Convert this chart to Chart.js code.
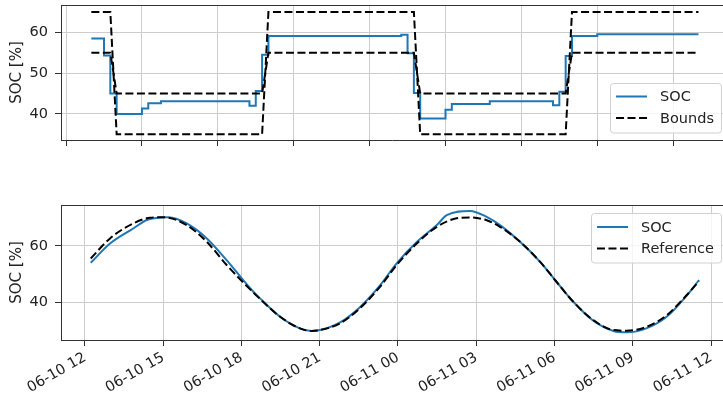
<!DOCTYPE html>
<html>
<head>
<meta charset="utf-8">
<script src="https://cdn.jsdelivr.net/npm/chart.js@4.4.1/dist/chart.umd.min.js"></script>
<style>
    html, body { margin: 0; padding: 0; background: #ffffff; }
    #wrap { position: relative; width: 723px; height: 394px; }
    #wrap canvas { position: absolute; left: 0; }
    #top-chart { top: 0; }
    #bottom-chart { top: 195px; }
</style>
</head>
<body>
<div id="wrap">
    <canvas id="top-chart" width="723" height="150"></canvas>
    <canvas id="bottom-chart" width="723" height="199"></canvas>
</div>
<script>
// Hours counted from 06-10 00:00
var tickHours = [12, 15, 18, 21, 24, 27, 30, 33, 36];
var tickLabels = ['06-10 12', '06-10 15', '06-10 18', '06-10 21', '06-11 00',
                  '06-11 03', '06-11 06', '06-11 09', '06-11 12'];

// Top panel: step SOC and the two bound lines
var topSocTimes = [13.0, 13.5, 13.75, 14.0, 15.0, 15.25, 15.75, 19.25, 19.5, 19.75, 20.0,
                   25.25, 25.5, 25.75, 26.0, 27.0, 27.25, 28.75, 31.25, 31.5, 31.75, 32.0,
                   33.0, 37.0];
var topSocValues = [58.5, 54.3, 45.0, 40.0, 41.3, 42.6, 43.1, 42.0, 45.6, 54.5, 59.1,
                    59.4, 54.9, 45.1, 38.9, 41.0, 42.4, 43.1, 42.1, 45.4, 54.2, 59.1,
                    59.5, 59.5];
var boundTimes = [13.0, 13.75, 14.0, 19.75, 20.0, 25.75, 26.0, 31.75, 32.0, 37.0];
var upperBound = [65, 65, 35, 35, 65, 65, 35, 35, 65, 65];
var lowerBound = [55, 55, 45, 45, 55, 55, 45, 45, 55, 55];
var topYTicks = [40, 50, 60];

// Bottom panel: SOC against the reference trajectory
var refTimes = [12.22, 12.96, 13.85, 14.49, 14.99, 15.90, 16.67, 17.43, 18.33, 18.71,
                19.48, 20.24, 20.69, 21.01, 21.78, 22.54, 23.31, 23.95, 24.72, 25.49,
                26.25, 26.76, 27.40, 27.91, 28.68, 29.45, 30.02, 30.72, 31.49, 32.26,
                32.77, 33.54, 34.31, 35.07, 35.54];
var refValues = [55.5, 62.6, 67.9, 69.9, 70.1, 67.3, 61.4, 53.2, 44.6, 41.2,
                 34.9, 30.8, 29.9, 30.2, 32.6, 37.9, 45.5, 53.2, 60.8, 66.7,
                 69.7, 70.0, 69.0, 66.7, 61.4, 54.3, 47.9, 40.2, 33.7, 30.2,
                 30.0, 31.4, 35.5, 42.6, 47.5];
var socTimes = [12.22, 12.96, 13.85, 14.37, 15.19, 15.90, 16.67, 17.43, 18.33, 18.71,
                19.48, 20.24, 20.69, 21.01, 21.78, 22.54, 23.31, 23.95, 24.72, 25.49,
                25.87, 26.76, 27.40, 27.91, 28.68, 29.45, 30.02, 30.72, 31.49, 32.26,
                32.77, 33.54, 34.31, 35.07, 35.54];
var socValues = [54.0, 60.8, 66.1, 69.1, 70.1, 67.9, 62.6, 54.9, 45.0, 41.4,
                 34.9, 30.8, 29.9, 30.2, 32.9, 38.3, 46.0, 53.8, 61.3, 67.3,
                 70.8, 72.3, 70.2, 67.3, 61.4, 54.3, 47.9, 40.2, 33.5, 29.9,
                 29.4, 30.9, 35.0, 42.4, 47.9];
var bottomYTicks = [40, 60];

(function() {
    'use strict';

    var FONT = '"DejaVu Sans", sans-serif';
    var FONT_SIZE = 14.5;
    var BLUE = '#1f77b4';
    var SPINE = '#333333';
    var GRID = '#cdcdcd';

    function pairs(xs, ys) {
        return xs.map(function(x, i) { return { x: x, y: ys[i] }; });
    }

    /**
     * Matplotlib style legend drawn inside the plot area
     */
    var boxLegend = {
        id: 'boxLegend',
        afterDatasetsDraw: function(chart, args, opts) {
            var ctx = chart.ctx;
            var area = chart.chartArea;
            var items = chart.data.datasets.filter(function(ds) { return ds.label; });
            ctx.save();
            ctx.font = FONT_SIZE + 'px ' + FONT;
            var textW = 0;
            items.forEach(function(ds) {
                textW = Math.max(textW, ctx.measureText(ds.label).width);
            });
            var rowH = 21.5;
            var w = 6 + 31 + 13 + textW + 7;
            var h = 28 + rowH * (items.length - 1);
            var x = area.right - 2 - w;
            var y = opts.corner === 'lower' ? area.bottom - 8 - h : area.top + 8;

            ctx.beginPath();
            ctx.roundRect(Math.round(x) + 0.5, Math.round(y) + 0.5, w, h, 3);
            ctx.fillStyle = 'rgba(255,255,255,0.8)';
            ctx.fill();
            ctx.strokeStyle = '#d0d0d0';
            ctx.lineWidth = 1;
            ctx.stroke();

            items.forEach(function(ds, i) {
                var cy = y + 14 + i * rowH;
                ctx.beginPath();
                ctx.setLineDash(ds.borderDash || []);
                ctx.strokeStyle = ds.borderColor;
                ctx.lineWidth = ds.borderWidth;
                ctx.moveTo(x + 6, cy);
                ctx.lineTo(x + 37, cy);
                ctx.stroke();
                ctx.setLineDash([]);
                ctx.fillStyle = '#222222';
                ctx.textBaseline = 'middle';
                ctx.fillText(ds.label, x + 50, cy + 1);
            });
            ctx.restore();
        }
    };

    /**
     * Top spine (left and bottom come from the axes)
     */
    var topSpine = {
        id: 'topSpine',
        afterDraw: function(chart) {
            var ctx = chart.ctx;
            var area = chart.chartArea;
            ctx.save();
            ctx.strokeStyle = SPINE;
            ctx.lineWidth = 1;
            ctx.beginPath();
            ctx.moveTo(area.left, Math.round(area.top) + 0.5);
            ctx.lineTo(area.right, Math.round(area.top) + 0.5);
            ctx.stroke();
            ctx.restore();
        }
    };

    function xScale(min, max, height, showLabels) {
        return {
            type: 'linear',
            min: min,
            max: max,
            afterBuildTicks: function(scale) {
                scale.ticks = tickHours.map(function(v) { return { value: v }; });
            },
            afterFit: function(scale) {
                scale.height = height;
                scale.paddingLeft = 0;
                scale.paddingRight = 0;
            },
            grid: { color: GRID, lineWidth: 1, tickColor: SPINE, tickLength: 6 },
            border: { color: SPINE, width: 1 },
            ticks: {
                autoSkip: false,
                minRotation: showLabels ? 30 : 0,
                maxRotation: showLabels ? 30 : 0,
                padding: 3,
                color: '#222222',
                font: { family: FONT, size: FONT_SIZE },
                callback: function(value) {
                    var i = tickHours.indexOf(value);
                    return showLabels && i >= 0 ? tickLabels[i] : '';
                }
            }
        };
    }

    function yScale(min, max, ticks) {
        return {
            min: min,
            max: max,
            afterBuildTicks: function(scale) {
                scale.ticks = ticks.map(function(v) { return { value: v }; });
            },
            afterFit: function(scale) {
                scale.width = 61;
                scale.paddingTop = 0;
                scale.paddingBottom = 0;
            },
            grid: { color: GRID, lineWidth: 1, tickColor: SPINE, tickLength: 6 },
            border: { color: SPINE, width: 1 },
            ticks: { padding: 7, color: '#222222', font: { family: FONT, size: FONT_SIZE } },
            title: {
                display: true,
                text: 'SOC [%]',
                color: '#222222',
                font: { family: FONT, size: 15 },
                padding: { top: 8, bottom: 0 }
            }
        };
    }

    function baseOptions(padTop, xOpts, yOpts, corner) {
        return {
            responsive: false,
            animation: false,
            layout: { padding: { top: padTop, right: 0, bottom: 0, left: 0 } },
            elements: { point: { radius: 0 } },
            plugins: {
                legend: { display: false },
                tooltip: { enabled: false },
                boxLegend: { corner: corner }
            },
            scales: { x: xOpts, y: yOpts }
        };
    }

    // Top panel
    new Chart(document.getElementById('top-chart').getContext('2d'), {
        type: 'line',
        data: {
            datasets: [{
                label: 'SOC',
                data: pairs(topSocTimes, topSocValues),
                stepped: 'before',
                borderColor: BLUE,
                borderWidth: 2,
                order: 2
            }, {
                label: 'Bounds',
                data: pairs(boundTimes, upperBound),
                borderColor: '#000000',
                borderWidth: 2,
                borderDash: [8, 3.5],
                order: 1
            }, {
                label: '',
                data: pairs(boundTimes, lowerBound),
                borderColor: '#000000',
                borderWidth: 2,
                borderDash: [8, 3.5],
                order: 1
            }]
        },
        options: baseOptions(5, xScale(11.80, 37.97, 10, false), yScale(33.6, 66.7, topYTicks), 'lower'),
        plugins: [boxLegend, topSpine]
    });

    // Bottom panel
    new Chart(document.getElementById('bottom-chart').getContext('2d'), {
        type: 'line',
        data: {
            datasets: [{
                label: 'SOC',
                data: pairs(socTimes, socValues),
                borderColor: BLUE,
                borderWidth: 2,
                cubicInterpolationMode: 'monotone',
                order: 2
            }, {
                label: 'Reference',
                data: pairs(refTimes, refValues),
                borderColor: '#000000',
                borderWidth: 2,
                borderDash: [8, 3.5],
                cubicInterpolationMode: 'monotone',
                order: 1
            }]
        },
        options: baseOptions(10, xScale(11.08, 36.46, 54, true), yScale(26.7, 74.4, bottomYTicks), 'upper'),
        plugins: [boxLegend, topSpine]
    });
})();
</script>
</body>
</html>
